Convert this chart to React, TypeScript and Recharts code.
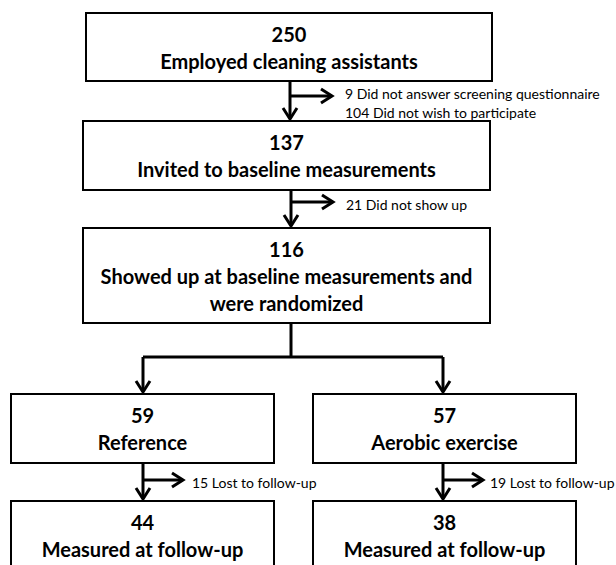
import {
  ScatterChart,
  Scatter,
  XAxis,
  YAxis,
  ReferenceArea,
  ReferenceLine,
} from "recharts";

const W = 616;
const H = 565;

// participant flow
const boxCounts = [250, 137, 116, 59, 57, 44, 38];
const boxLabels = [
  ["Employed cleaning assistants"],
  ["Invited to baseline measurements"],
  ["Showed up at baseline measurements and", "were randomized"],
  ["Reference"],
  ["Aerobic exercise"],
  ["Measured at follow-up"],
  ["Measured at follow-up"],
];
const exclusionCounts = [9, 104, 21, 15, 19];
const exclusionLabels = [
  "Did not answer screening questionnaire",
  "Did not wish to participate",
  "Did not show up",
  "Lost to follow-up",
  "Lost to follow-up",
];

// layout, in page units (x1, y1, x2, y2)
const boxRects = [
  [86, 13, 492, 81],
  [83, 121, 490, 190],
  [83, 228, 490, 323],
  [11, 394, 274, 463],
  [313, 394, 576, 463],
  [11, 501, 274, 590],
  [313, 501, 576, 590],
];
// straight steps: from box, to box, x of the arrow, side branch y / length, note offset, exclusion notes
const steps = [
  { from: 0, to: 1, x: 290, branchY: 96, len: 42, dx: 13, notes: [0, 1] },
  { from: 1, to: 2, x: 291, branchY: 202, len: 42, dx: 13, notes: [2] },
  { from: 3, to: 5, x: 143, branchY: 480, len: 40, dx: 9, notes: [3] },
  { from: 4, to: 6, x: 443, branchY: 480, len: 40, dx: 7, notes: [4] },
];
const split = { from: 2, x: 291, y: 357, to: [3, 4], xs: [143, 443] };

const GAP = 2;

type Seg = [number, number, number, number];
const segments: Seg[] = [];
const arrows: { x: number; y: number; dir: "down" | "right" }[] = [];
const texts: { x: number; y: number; text: string; kind: string }[] = [];

boxRects.forEach(([x1, y1, x2], i) => {
  const cx = (x1 + x2) / 2;
  texts.push({ x: cx, y: y1 + 21, text: String(boxCounts[i]), kind: "box" });
  boxLabels[i].forEach((t, j) =>
    texts.push({ x: cx, y: y1 + 48 + 27 * j, text: t, kind: "box" })
  );
});

steps.forEach((s) => {
  const top = boxRects[s.from][3];
  const tip = boxRects[s.to][1] - GAP;
  segments.push([s.x, top, s.x, tip]);
  arrows.push({ x: s.x, y: tip, dir: "down" });
  segments.push([s.x, s.branchY, s.x + s.len, s.branchY]);
  arrows.push({ x: s.x + s.len, y: s.branchY, dir: "right" });
  const n = s.notes.length;
  s.notes.forEach((k, i) =>
    texts.push({
      x: s.x + s.len + s.dx,
      y: s.branchY + (n > 1 ? -3 : 2) + 19 * i,
      text: `${exclusionCounts[k]} ${exclusionLabels[k]}`,
      kind: "note",
    })
  );
});

segments.push([split.x, boxRects[split.from][3], split.x, split.y]);
segments.push([split.xs[0], split.y, split.xs[1], split.y]);
split.to.forEach((b, i) => {
  const tip = boxRects[b][1] - GAP;
  segments.push([split.xs[i], split.y, split.xs[i], tip]);
  arrows.push({ x: split.xs[i], y: tip, dir: "down" });
});

// eslint-disable-next-line @typescript-eslint/no-explicit-any
const ArrowHead = (props: any) => {
  const { cx, cy, payload } = props;
  const pts =
    payload.dir === "down"
      ? `${cx - 7},${cy - 11} ${cx},${cy} ${cx + 7},${cy - 11}`
      : `${cx - 11},${cy - 7} ${cx},${cy} ${cx - 11},${cy + 7}`;
  return (
    <polyline points={pts} fill="none" stroke="#000" strokeWidth={3} />
  );
};

// eslint-disable-next-line @typescript-eslint/no-explicit-any
const Label = (props: any) => {
  const { cx, cy, payload } = props;
  const isBox = payload.kind === "box";
  return (
    <text
      x={cx}
      y={cy}
      textAnchor={isBox ? "middle" : "start"}
      dominantBaseline="central"
      fontFamily="Lato, 'Open Sans', sans-serif"
      fontWeight={isBox ? 700 : 400}
      fontSize={isBox ? 20 : 14}
      fill="#000"
    >
      {payload.text}
    </text>
  );
};

export default function App() {
  return (
    <div style={{ position: "absolute", left: 0, top: 0, background: "#fff" }}>
      <ScatterChart
        width={W}
        height={H}
        margin={{ top: 0, right: 0, bottom: 0, left: 0 }}
      >
        <XAxis type="number" dataKey="x" domain={[0, W]} hide />
        <YAxis type="number" dataKey="y" domain={[0, H]} reversed hide />
        {segments.map(([x1, y1, x2, y2], i) => (
          <ReferenceLine
            key={`s${i}`}
            segment={[
              { x: x1, y: y1 },
              { x: x2, y: y2 },
            ]}
            stroke="#000"
            strokeWidth={3}
            ifOverflow="visible"
          />
        ))}
        {boxRects.map(([x1, y1, x2, y2], i) => (
          <ReferenceArea
            key={`b${i}`}
            x1={x1}
            x2={x2}
            y1={y1}
            y2={y2}
            fill="#fff"
            fillOpacity={1}
            stroke="#000"
            strokeWidth={2}
            ifOverflow="visible"
          />
        ))}
        <Scatter data={arrows} shape={ArrowHead} isAnimationActive={false} />
        <Scatter data={texts} shape={Label} isAnimationActive={false} />
      </ScatterChart>
    </div>
  );
}
